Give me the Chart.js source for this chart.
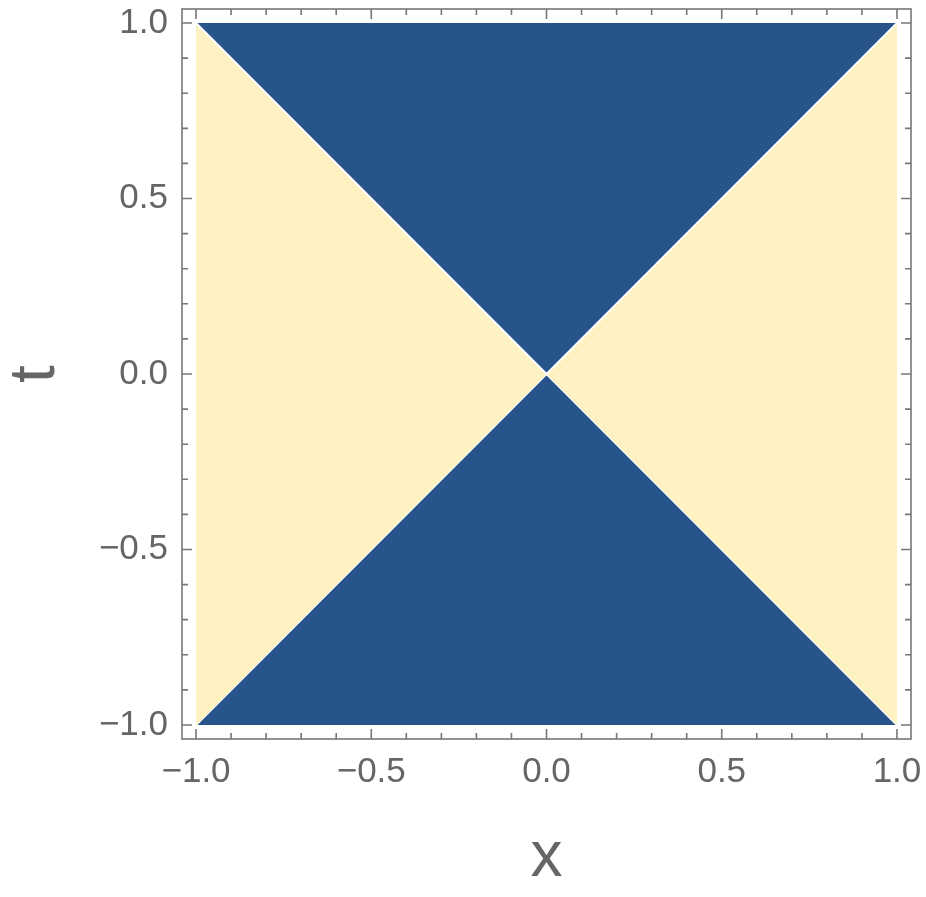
<!DOCTYPE html>
<html>
<head>
<meta charset="utf-8">
<script src="https://cdn.jsdelivr.net/npm/chart.js@4/dist/chart.umd.min.js"></script>
<style>
  html, body { margin: 0; padding: 0; background: #ffffff; }
  #wrap { width: 926px; height: 897px; }
</style>
</head>
<body>
<div id="wrap"><canvas id="c" width="926" height="897"></canvas></div>
<script>
// ---- data ----
const xValues        = [-1, 0, 1];
const upperBoundary  = [1, 0, 1];    // t = |x|
const lowerBoundary  = [-1, 0, -1];  // t = -|x|
const tMaxEdge       = [1, 1, 1];
const tMinEdge       = [-1, -1, -1];
const majorTicks     = [-1, -0.5, 0, 0.5, 1];
const majorTickLabels = ['\u22121.0', '\u22120.5', '0.0', '0.5', '1.0'];
const minorTicks     = [-0.9, -0.8, -0.7, -0.6, -0.4, -0.3, -0.2, -0.1, 0.1, 0.2, 0.3, 0.4, 0.6, 0.7, 0.8, 0.9];
const xTitle = 'x';
const tTitle = 't';

const BLUE = '#27548a';
const YELLOW = '#fff2c2';
const FRAME = '#777777';
const TEXT = '#666666';

function pts(ys) { return xValues.map((x, i) => ({ x: x, y: ys[i] })); }

const framePlugin = {
  id: 'frameTicks',
  afterDraw(chart) {
    const { ctx, chartArea: a, scales } = chart;
    const xs = scales.x, ys = scales.y;
    ctx.save();
    ctx.strokeStyle = FRAME;
    ctx.lineWidth = 1.6;
    ctx.beginPath();
    const drawX = (v, len) => {
      const px = xs.getPixelForValue(v);
      ctx.moveTo(px, a.bottom); ctx.lineTo(px, a.bottom - len);
      ctx.moveTo(px, a.top); ctx.lineTo(px, a.top + len);
    };
    const drawY = (v, len) => {
      const py = ys.getPixelForValue(v);
      ctx.moveTo(a.left, py); ctx.lineTo(a.left + len, py);
      ctx.moveTo(a.right, py); ctx.lineTo(a.right - len, py);
    };
    majorTicks.forEach(v => { drawX(v, 10); drawY(v, 10); });
    minorTicks.forEach(v => { drawX(v, 6); drawY(v, 6); });
    ctx.stroke();
    ctx.strokeRect(a.left, a.top, a.right - a.left, a.bottom - a.top);
    ctx.restore();
  }
};

const tickFont = { family: '"Liberation Sans", Arial, sans-serif', size: 35 };

function zeroPad(s) { s.paddingTop = 0; s.paddingBottom = 0; s.paddingLeft = 0; s.paddingRight = 0; }

new Chart(document.getElementById('c'), {
  type: 'scatter',
  data: {
    datasets: [
      { data: pts(upperBoundary), showLine: true, fill: 1, backgroundColor: YELLOW,
        borderColor: '#ffffff', borderWidth: 2, pointRadius: 0, tension: 0 },
      { data: pts(lowerBoundary), showLine: true, fill: false,
        borderColor: '#ffffff', borderWidth: 2, pointRadius: 0, tension: 0 },
      { data: pts(tMaxEdge), showLine: true, fill: 0, backgroundColor: BLUE,
        borderWidth: 0, borderColor: 'rgba(0,0,0,0)', pointRadius: 0, tension: 0 },
      { data: pts(tMinEdge), showLine: true, fill: 1, backgroundColor: BLUE,
        borderWidth: 0, borderColor: 'rgba(0,0,0,0)', pointRadius: 0, tension: 0 }
    ]
  },
  options: {
    responsive: false,
    animation: false,
    events: [],
    layout: { padding: { top: 9, right: 15, left: 0, bottom: 0 } },
    plugins: { legend: { display: false }, tooltip: { enabled: false }, title: { display: false } },
    scales: {
      x: {
        type: 'linear', min: -1.04, max: 1.04,
        grid: { display: false, drawTicks: false },
        border: { display: false },
        afterBuildTicks: s => { s.ticks = majorTicks.map(v => ({ value: v })); },
        afterFit: s => { s.height = 158; zeroPad(s); },
        ticks: {
          color: TEXT, font: tickFont, padding: 12, maxRotation: 0, autoSkip: false,
          callback: (v) => { const i = majorTicks.findIndex(m => Math.abs(m - v) < 1e-9); return i >= 0 ? majorTickLabels[i] : ''; }
        },
        title: { display: true, text: xTitle, color: TEXT, padding: { top: 0, bottom: 0 },
                 font: { family: '"Liberation Sans", Arial, sans-serif', size: 64, lineHeight: 1.2 } }
      },
      y: {
        type: 'linear', min: -1.04, max: 1.04,
        grid: { display: false, drawTicks: false },
        border: { display: false },
        afterBuildTicks: s => { s.ticks = majorTicks.map(v => ({ value: v })); },
        afterFit: s => { s.width = 182; zeroPad(s); },
        ticks: {
          color: TEXT, font: tickFont, padding: 14, autoSkip: false,
          callback: (v) => { const i = majorTicks.findIndex(m => Math.abs(m - v) < 1e-9); return i >= 0 ? majorTickLabels[i] : ''; }
        },
        title: { display: true, text: tTitle, color: TEXT, padding: { top: 4, bottom: 0 },
                 font: { family: '"Liberation Sans", Arial, sans-serif', size: 64, lineHeight: 1.0 } }
      }
    }
  },
  plugins: [framePlugin]
});
</script>
</body>
</html>
